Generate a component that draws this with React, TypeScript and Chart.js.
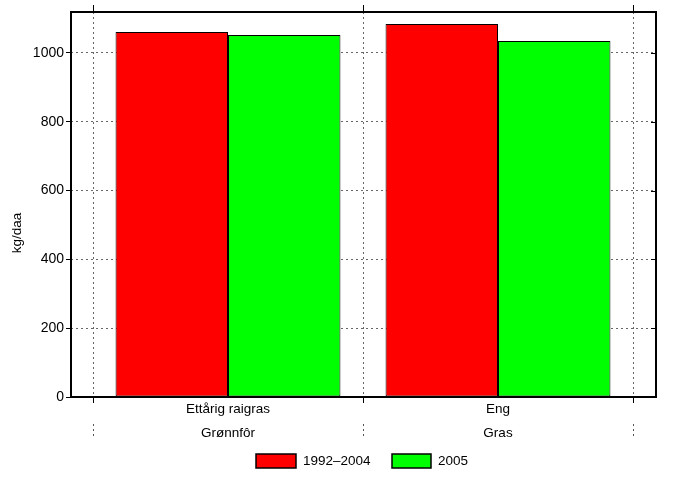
import React, { useEffect, useRef } from "react";
import { Chart, registerables } from "chart.js";

Chart.register(...registerables);

const categories = ["Ettårig raigras", "Eng"];
const groups = ["Grønnfôr", "Gras"];
const seriesNames = ["1992–2004", "2005"];
const series1992_2004 = [1061, 1084];
const series2005 = [1052, 1035];
const seriesColors = ["#ff0000", "#00ff00"];
const yTicks = [0, 200, 400, 600, 800, 1000];
const yMax = 1119;
const yTitle = "kg/daa";

const FONT = "'Liberation Sans', Arial, Helvetica, sans-serif";

export default function App() {
  const ref = useRef<HTMLCanvasElement | null>(null);

  useEffect(() => {
    document.body.style.margin = "0";
    const canvas = ref.current;
    if (!canvas) return;

    const decor = {
      id: "decor",
      afterDraw(chart: any) {
        const ctx = chart.ctx;
        const a = chart.chartArea;
        const xs = chart.scales.x;
        const ys = chart.scales.y;
        ctx.save();
        // frame
        ctx.strokeStyle = "#000";
        ctx.lineWidth = 2;
        ctx.setLineDash([]);
        ctx.strokeRect(a.left, a.top, a.right - a.left, a.bottom - a.top);
        ctx.lineWidth = 1;
        // top ticks (outward) and bottom ticks
        for (let i = 0; i <= categories.length; i++) {
          const px = Math.round(xs.getPixelForValue(i)) + 0.5;
          ctx.beginPath();
          ctx.moveTo(px, a.top - 7);
          ctx.lineTo(px, a.top);
          ctx.moveTo(px, a.bottom);
          ctx.lineTo(px, a.bottom + 6);
          ctx.stroke();
        }
        // right ticks (inward)
        for (const v of yTicks) {
          const py = Math.round(ys.getPixelForValue(v)) + 0.5;
          ctx.beginPath();
          ctx.moveTo(a.right - 5, py);
          ctx.lineTo(a.right, py);
          ctx.stroke();
        }
        // separators below axis (dotted)
        ctx.strokeStyle = "#555";
        ctx.setLineDash([2, 3]);
        for (let i = 0; i <= categories.length; i++) {
          const px = Math.round(xs.getPixelForValue(i)) + 0.5;
          ctx.beginPath();
          ctx.moveTo(px, a.bottom + 27);
          ctx.lineTo(px, a.bottom + 41);
          ctx.stroke();
        }
        ctx.setLineDash([]);
        // category labels
        ctx.fillStyle = "#000";
        ctx.font = `13.5px ${FONT}`;
        ctx.textAlign = "center";
        ctx.textBaseline = "middle";
        categories.forEach((c, i) => {
          const px = xs.getPixelForValue(i + 0.5);
          ctx.fillText(c, px, a.bottom + 12);
          ctx.fillText(groups[i], px, a.bottom + 36);
        });
        // y title
        ctx.save();
        ctx.translate(17, 233);
        ctx.rotate(-Math.PI / 2);
        ctx.fillText(yTitle, 0, 0);
        ctx.restore();
        // legend
        const boxes = [
          { x: 256, w: 40, tx: 303 },
          { x: 392, w: 39, tx: 438 },
        ];
        seriesNames.forEach((n, i) => {
          const b = boxes[i];
          ctx.fillStyle = seriesColors[i];
          ctx.fillRect(b.x, 454, b.w, 14);
          ctx.strokeStyle = "#000";
          ctx.lineWidth = 1.5;
          ctx.strokeRect(b.x, 454, b.w, 14);
          ctx.fillStyle = "#000";
          ctx.textAlign = "left";
          ctx.fillText(n, b.tx, 461.5);
        });
        ctx.restore();
      },
    };

    const chart = new Chart(canvas, {
      type: "bar",
      data: {
        datasets: [
          {
            label: seriesNames[0],
            data: series1992_2004.map((v, i) => ({ x: i + 0.5, y: v })),
            backgroundColor: seriesColors[0],
            borderColor: "#000",
            borderWidth: 1,
            borderSkipped: false,
            categoryPercentage: 0.833,
            barPercentage: 1,
          },
          {
            label: seriesNames[1],
            data: series2005.map((v, i) => ({ x: i + 0.5, y: v })),
            backgroundColor: seriesColors[1],
            borderColor: "#000",
            borderWidth: 1,
            borderSkipped: false,
            categoryPercentage: 0.833,
            barPercentage: 1,
          },
        ],
      },
      options: {
        animation: false,
        responsive: true,
        maintainAspectRatio: false,
        layout: { padding: { left: 0, top: 12, right: 29, bottom: 0 } },
        plugins: {
          legend: { display: false },
          tooltip: { enabled: false },
        },
        scales: {
          x: {
            type: "linear",
            offset: false,
            min: -22 / 270,
            max: 2 + 23 / 270,
            afterBuildTicks: (s: any) => {
              s.ticks = [0, 1, 2].map((v) => ({ value: v }));
            },
            afterFit: (s: any) => {
              s.height = 81;
            },
            ticks: { display: false },
            grid: {
              offset: false,
              color: "#666",
              drawTicks: false,
              lineWidth: 1,
            },
            border: { display: false, dash: [2, 3] },
          },
          y: {
            type: "linear",
            min: 0,
            max: yMax,
            afterBuildTicks: (s: any) => {
              s.ticks = yTicks.map((v) => ({ value: v }));
            },
            afterFit: (s: any) => {
              s.width = 71;
            },
            ticks: {
              color: "#000",
              font: { family: FONT, size: 14 },
              padding: 2,
              callback: (v: any) => String(v),
            },
            grid: {
              color: "#666",
              tickColor: "#000",
              tickLength: 5,
              tickBorderDash: [],
              lineWidth: 1,
            },
            border: { display: false, dash: [2, 3] },
          },
        },
      },
      plugins: [decor],
    });

    return () => chart.destroy();
  }, []);

  return (
    <div style={{ width: 685, height: 478, position: "relative" }}>
      <canvas ref={ref} />
    </div>
  );
}
